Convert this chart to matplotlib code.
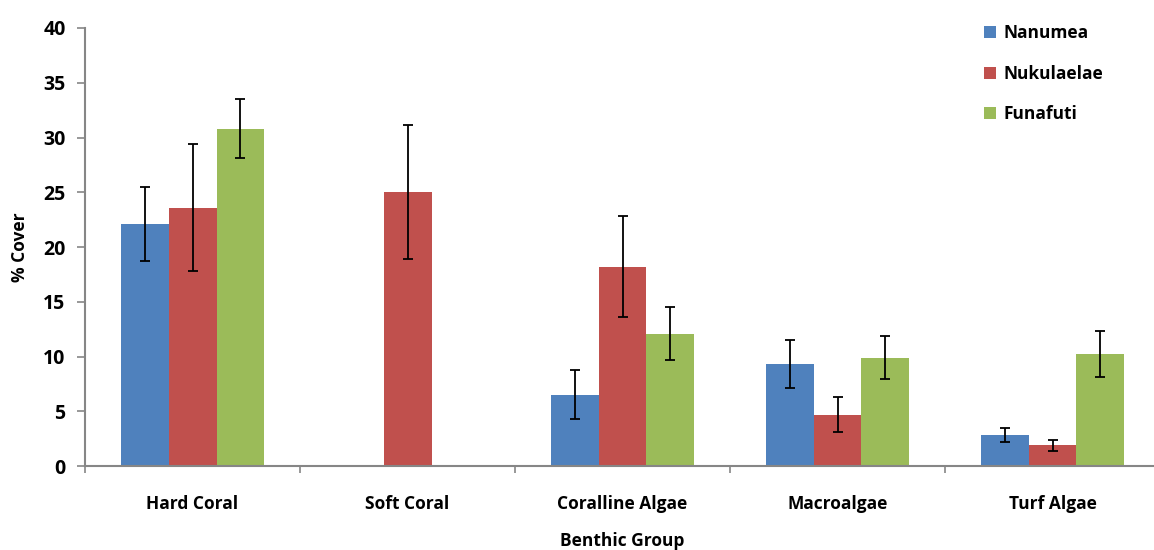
import numpy as np
import matplotlib.pyplot as plt

groups = ['Hard Coral', 'Soft Coral', 'Coralline Algae', 'Macroalgae', 'Turf Algae']
sites = ['Nanumea', 'Nukulaelae', 'Funafuti']
colors = ['#4F81BD', '#C0504D', '#9BBB59']

# mean % cover and error (half range) per site, one value per benthic group
nanumea = [22.1, np.nan, 6.5, 9.3, 2.8]
nanumea_err = [3.4, np.nan, 2.25, 2.2, 0.65]
nukulaelae = [23.6, 25.0, 18.2, 4.7, 1.9]
nukulaelae_err = [5.8, 6.1, 4.6, 1.6, 0.5]
funafuti = [30.8, np.nan, 12.1, 9.9, 10.2]
funafuti_err = [2.7, np.nan, 2.45, 1.95, 2.1]

plt.rcParams['font.family'] = ['Open Sans', 'DejaVu Sans']
plt.rcParams['font.weight'] = 'bold'

fig = plt.figure(figsize=(11.54, 5.5), dpi=100)
ax = fig.add_axes([0.0737, 0.1527, 0.9315, 0.7964])

x = np.arange(len(groups))
w = 0.223
for i, (vals, errs) in enumerate([(nanumea, nanumea_err),
                                  (nukulaelae, nukulaelae_err),
                                  (funafuti, funafuti_err)]):
    ax.bar(x + (i - 1) * w, vals, w, color=colors[i], label=sites[i],
           yerr=errs, capsize=3.5,
           error_kw=dict(ecolor='black', elinewidth=1.3, capthick=1.3))

ax.set_xlim(-0.5, 4.5)
ax.set_ylim(0, 40)
ax.set_yticks(range(0, 41, 5))
ax.set_xticks(np.arange(-0.5, 4.5, 1.0))
ax.set_xticklabels([])
ax.set_xticks(x, minor=True)
ax.set_xticklabels(groups, minor=True, fontsize=12.5)
ax.tick_params(axis='x', which='minor', length=0, pad=21)
ax.tick_params(axis='x', which='major', direction='out', length=5, color='#868686', width=1.2)
ax.tick_params(axis='y', direction='out', length=6, color='#868686', width=1.2,
               labelsize=14, pad=8)

for s in ['top', 'right']:
    ax.spines[s].set_visible(False)
for s in ['left', 'bottom']:
    ax.spines[s].set_color('#868686')
    ax.spines[s].set_linewidth(1.5)

fig.text(622 / 1154, 1 - 541 / 550, 'Benthic Group', fontsize=12.5,
         ha='center', va='center')
ax.set_ylabel('% Cover', fontsize=12.5, fontweight='bold', labelpad=10)

ax.legend(loc='upper left', bbox_to_anchor=(0.822, 1.044), frameon=False,
          fontsize=12.5, handlelength=0.7, handleheight=0.7, labelspacing=1.3,
          handletextpad=0.4)

fig.savefig('out.png', dpi=100)
